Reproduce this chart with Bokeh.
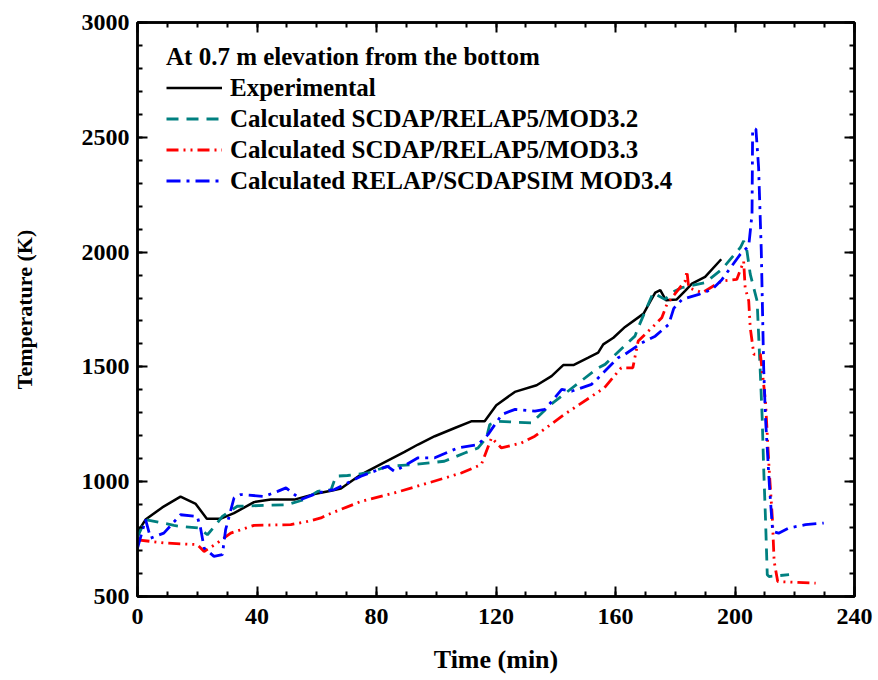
from bokeh.plotting import figure
from bokeh.models import (Range1d, LinearAxis, SingleIntervalTicker, Legend, LegendItem,
                          CustomLabelingPolicy)
from bokeh.embed import file_html
from bokeh.resources import INLINE

# ---- data ----
exp_t = [0, 2.7, 8.3, 14.4, 19.5, 23.2, 27.9, 32.3, 39, 44.6, 52.5, 59.2, 64.8, 68.1, 74.8,
         81.5, 89.4, 93.9, 99.5, 106.2, 111.7, 116.2, 120.1, 126.3, 133.6, 138.6, 142.5,
         145.9, 150.9, 154.2, 155.9, 159.3, 163.2, 169.4, 171.6, 173.3, 175, 176.9, 180.5,
         183.3, 185.6, 190, 195.4]
exp_T = [780, 835, 888, 935, 903, 839, 839, 863, 911, 922, 922, 946, 961, 970, 1031,
         1077, 1130, 1162, 1198, 1234, 1263, 1263, 1333, 1391, 1420, 1460, 1508,
         1508, 1540, 1562, 1598, 1627, 1674, 1732, 1784, 1823, 1834, 1790, 1794,
         1831, 1863, 1892, 1969]

m32_t = [0, 2.7, 12.2, 14.4, 20.6, 23.4, 26.7, 28.4, 33.4, 50.2, 55.8, 60.3, 64.8, 66.4,
         70.3, 77, 83.7, 92.6, 102.7, 109.5, 114, 116.8, 117.9, 120.7, 131.9, 138.6,
         154.2, 156.5, 166.5, 167.6, 172.6, 176.5, 179.9, 182.1, 190, 195.6, 201.8,
         202.9, 204, 205.1, 207.4, 207.9, 208.5, 209.1, 209.6, 210.2, 210.8, 211.4, 218.1]
m32_T = [760, 835, 810, 805, 798, 769, 820, 849, 893, 900, 922, 958, 965, 1024,
         1027, 1038, 1067, 1075, 1089, 1125, 1147, 1191, 1249, 1263, 1256, 1339,
         1496, 1511, 1634, 1671, 1823, 1794, 1831, 1845, 1867, 1925, 2020,
         2049, 2005, 1904, 1787, 1642, 1467, 1278, 1060, 842, 595, 587, 595]

m33_t = [0, 8.8, 20, 22.3, 26.7, 31.2, 39, 51.3, 56.9, 61.4, 63.6, 74.8, 86, 97.2, 108.4,
         115.1, 118.5, 121.8, 128.5, 133, 142.9, 156.3, 161.9, 165.8, 167.6, 173.3,
         175.5, 177.2, 183.3, 183.9, 184.5, 189, 195.6, 200.6, 202.9, 203.4, 204.6,
         205.1, 206.3, 208.5, 210.2, 211.4, 212.5, 213.1, 214.3, 227]
m33_T = [747, 733, 726, 696, 733, 776, 810, 813, 827, 842, 856, 914, 951, 994, 1038,
         1075, 1191, 1147, 1169, 1198, 1293, 1409, 1496, 1496, 1613, 1685,
         1714, 1773, 1874, 1918, 1845, 1823, 1874, 1881, 1960, 1845, 1787,
         1671, 1555, 1555, 1351, 1060, 842, 653, 565, 558]

m34_t = [0, 2.7, 4.4, 8.8, 14.4, 20, 21.1, 22.3, 25.6, 28.4, 29.5, 32.3, 34.6, 42.4, 46.9,
         49.7, 54.7, 60.3, 65.9, 74.8, 83.7, 86, 93.9, 99.5, 107.2, 114, 117.3, 122,
         126.4, 133, 136.4, 142, 145.3, 152, 154.2, 160.9, 163.2, 168.8, 173.3, 177.8,
         179.5, 182.3, 187.9, 192.4, 195.6, 201.8, 204.6, 205.7, 205.9, 207, 207.9,
         208.8, 209.6, 210.2, 211.5, 212.6, 214.6, 218, 223.6, 229.7]
m34_T = [711, 835, 754, 776, 856, 849, 798, 711, 675, 682, 791, 929, 944, 936, 958,
         973, 922, 951, 966, 1024, 1067, 1045, 1104, 1104, 1147, 1162, 1205, 1293,
         1315, 1307, 1315, 1402, 1394, 1424, 1452, 1540, 1555, 1605, 1634, 1685,
         1755, 1794, 1816, 1838, 1880, 1991, 2027, 2165, 2536, 2536, 2369,
         2005, 1496, 1278, 987, 784, 776, 798, 813, 820]

legend_title = "At 0.7 m elevation from the bottom"
labels = ["Experimental", "Calculated SCDAP/RELAP5/MOD3.2",
          "Calculated SCDAP/RELAP5/MOD3.3", "Calculated RELAP/SCDAPSIM MOD3.4"]

FONT = "Liberation Serif"

p = figure(width=878, height=680, x_range=Range1d(0, 240), y_range=Range1d(500, 3000),
           output_backend="svg", toolbar_location=None,
           x_axis_label="Time (min)", y_axis_label="Temperature (K)",
           min_border_left=137, min_border_right=24, min_border_top=22, min_border_bottom=84)
p.grid.visible = False
p.outline_line_color = "black"
p.outline_line_width = 2.5
p.background_fill_color = "white"

r1 = p.line(exp_t, exp_T, line_color="black", line_width=2.5)
r2 = p.line(m32_t, m32_T, line_color="#008080", line_width=2.8, line_dash="12 8")
r3 = p.line(m33_t, m33_T, line_color="#ff0000", line_width=2.8, line_dash="12 5 2 5 2 5")
r4 = p.line(m34_t, m34_T, line_color="#0000ff", line_width=2.8, line_dash="14 6 3 6")

no_labels = CustomLabelingPolicy(code="""
for (const i of Array.from(indices)) { indices.unset(i) }
return indices
""")

def style(ax, ticker, show_labels=True):
    ax.ticker = ticker
    ax.axis_line_color = "black"
    ax.axis_line_width = 2.5
    ax.major_tick_in = 10
    ax.major_tick_out = 0
    ax.minor_tick_in = 5
    ax.minor_tick_out = 0
    ax.major_tick_line_width = 2
    ax.minor_tick_line_width = 2
    ax.major_label_text_font = FONT
    ax.major_label_text_font_style = "bold"
    ax.major_label_text_font_size = "24px"
    ax.major_label_text_color = "black"
    ax.major_label_standoff = 8
    ax.axis_label_text_font = FONT
    ax.axis_label_text_font_style = "bold"
    ax.axis_label_text_color = "black"
    if not show_labels:
        ax.major_label_policy = no_labels
        ax.major_label_text_font_size = "1px"
        ax.major_label_standoff = 0

style(p.xaxis[0], SingleIntervalTicker(interval=40, num_minor_ticks=4))
style(p.yaxis[0], SingleIntervalTicker(interval=500, num_minor_ticks=5))
p.xaxis[0].axis_label_text_font_size = "26px"
p.yaxis[0].axis_label_text_font_size = "22px"
p.xaxis[0].major_label_standoff = 12
p.xaxis[0].axis_label_standoff = 18
p.yaxis[0].axis_label_standoff = 42

top = LinearAxis()
style(top, SingleIntervalTicker(interval=40, num_minor_ticks=4), show_labels=False)
p.add_layout(top, "above")
right = LinearAxis()
style(right, SingleIntervalTicker(interval=500, num_minor_ticks=5), show_labels=False)
p.add_layout(right, "right")

legend = Legend(items=[LegendItem(label=labels[0], renderers=[r1]),
                       LegendItem(label=labels[1], renderers=[r2]),
                       LegendItem(label=labels[2], renderers=[r3]),
                       LegendItem(label=labels[3], renderers=[r4])],
                location=(21, 393), title=legend_title)
legend.title_text_font = FONT
legend.title_text_font_style = "bold"
legend.title_text_font_size = "25px"
legend.title_text_color = "black"
legend.label_text_font = FONT
legend.label_text_font_style = "bold"
legend.label_text_font_size = "25px"
legend.label_text_color = "black"
legend.background_fill_alpha = 0
legend.border_line_alpha = 0
legend.margin = 0
legend.padding = 8
legend.glyph_width = 56
legend.glyph_height = 29
legend.label_height = 29
legend.label_standoff = 8
legend.spacing = 2
legend.title_standoff = 2
p.add_layout(legend)

open("out.html", "w").write(file_html(p, INLINE))
